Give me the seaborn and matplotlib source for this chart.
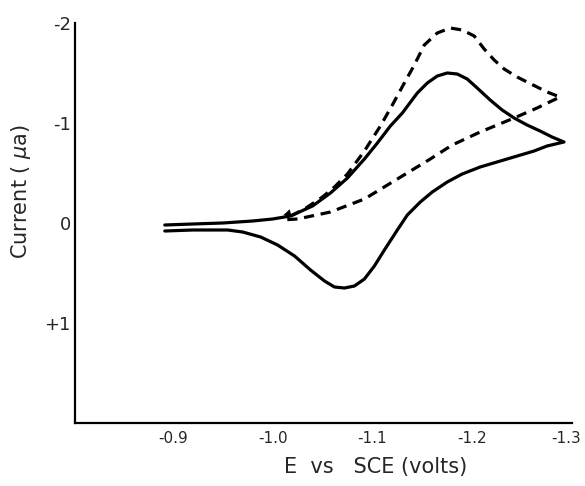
import numpy as np
import pandas as pd
import matplotlib
matplotlib.use("Agg")
import matplotlib.pyplot as plt
import matplotlib.transforms as mtransforms
import seaborn as sns

# ---- data ----
solid_fwd_E = [-0.892, -0.92, -0.95, -0.98, -1.00, -1.018, -1.04, -1.058, -1.075, -1.092,
               -1.105, -1.118, -1.13, -1.145, -1.155, -1.165, -1.175, -1.185, -1.195,
               -1.205, -1.218, -1.23, -1.242, -1.255, -1.268, -1.28, -1.292]
solid_fwd_I = [0.02, 0.01, 0.0, -0.02, -0.04, -0.07, -0.17, -0.30, -0.45, -0.64,
               -0.80, -0.97, -1.10, -1.30, -1.40, -1.47, -1.50, -1.49, -1.44,
               -1.35, -1.23, -1.13, -1.05, -0.98, -0.92, -0.86, -0.81]
solid_rev_E = [-1.292, -1.275, -1.262, -1.235, -1.208, -1.19, -1.175, -1.16, -1.148,
               -1.135, -1.125, -1.112, -1.102, -1.092, -1.082, -1.072, -1.062, -1.052,
               -1.038, -1.022, -1.005, -0.988, -0.97, -0.955, -0.92, -0.892]
solid_rev_I = [-0.81, -0.77, -0.72, -0.64, -0.56, -0.49, -0.41, -0.31, -0.21,
               -0.08, 0.07, 0.27, 0.43, 0.56, 0.63, 0.65, 0.64, 0.58,
               0.47, 0.33, 0.22, 0.14, 0.09, 0.07, 0.07, 0.08]

dash_fwd_E = [-1.018, -1.032, -1.05, -1.062, -1.075, -1.092, -1.108, -1.12, -1.132,
              -1.142, -1.152, -1.165, -1.178, -1.19, -1.202, -1.212, -1.222, -1.232,
              -1.245, -1.255, -1.275, -1.288]
dash_fwd_I = [-0.07, -0.14, -0.26, -0.36, -0.49, -0.72, -0.97, -1.18, -1.40,
              -1.58, -1.78, -1.90, -1.95, -1.93, -1.87, -1.74, -1.63, -1.54,
              -1.46, -1.41, -1.31, -1.26]
dash_rev_E = [-1.288, -1.265, -1.242, -1.208, -1.18, -1.158, -1.125, -1.092, -1.058,
              -1.025, -1.008]
dash_rev_I = [-1.26, -1.15, -1.05, -0.91, -0.78, -0.64, -0.44, -0.24, -0.11,
              -0.04, -0.03]

x_ticks = [-0.9, -1.0, -1.1, -1.2, -1.3]
x_ticklabels = ["-0.9", "-1.0", "-1.1", "-1.2", "-1.3"]
y_ticks = [-2, -1, 0, 1]
y_ticklabels = ["-2", "-1", "0", "+1"]

solid = pd.DataFrame({"E": solid_fwd_E + solid_rev_E, "I": solid_fwd_I + solid_rev_I})
dashed = pd.DataFrame({"E": dash_fwd_E + dash_rev_E, "I": dash_fwd_I + dash_rev_I})

sns.set_style("white")
plt.rcParams["font.family"] = ["DejaVu Sans"]

fig = plt.figure(figsize=(5.85, 4.86), dpi=100)
ax = fig.add_axes([75 / 585, 1 - 423 / 486, 497 / 585, 400 / 486])

sns.lineplot(data=solid, x="E", y="I", sort=False, estimator=None, color="black",
             linewidth=2.3, ax=ax)
sns.lineplot(data=dashed, x="E", y="I", sort=False, estimator=None, color="black",
             linewidth=2.3, linestyle=(0, (3.2, 2.1)), ax=ax)

# arrowhead at the start of the scans
ax.annotate("", xy=(dash_rev_E[-1], solid_fwd_I[5]),
            xytext=(dash_rev_E[-2], solid_fwd_I[5] - 0.05),
            arrowprops=dict(arrowstyle="-|>", color="black", lw=0, mutation_scale=14))

ax.set_xlim(-0.802, -1.30)
ax.set_ylim(2.0, -2.0)
ax.set_xticks(x_ticks)
ax.set_xticklabels(x_ticklabels, fontsize=11)
ax.set_yticks(y_ticks)
ax.set_yticklabels(y_ticklabels, fontsize=13)
ax.tick_params(axis="both", direction="in", length=7, width=1.5, color="black")
ax.tick_params(axis="x", pad=6)
ax.tick_params(axis="y", pad=3)

# nudge the last x tick label so it stays inside the figure
last = ax.get_xticklabels()[-1]
last.set_transform(last.get_transform() +
                   mtransforms.ScaledTranslation(-0.06, 0, fig.dpi_scale_trans))

for s in ["top", "right"]:
    ax.spines[s].set_visible(False)
for s in ["left", "bottom"]:
    ax.spines[s].set_color("black")
    ax.spines[s].set_linewidth(1.6)

ax.set_xlabel("E  vs   SCE (volts)", fontsize=15)
ax.set_ylabel("Current ( $\\mu$a)", fontsize=15)
ax.xaxis.set_label_coords(0.604, -0.085)
ax.yaxis.set_label_coords(-0.085, 0.58)

fig.savefig("out.png", dpi=100)
